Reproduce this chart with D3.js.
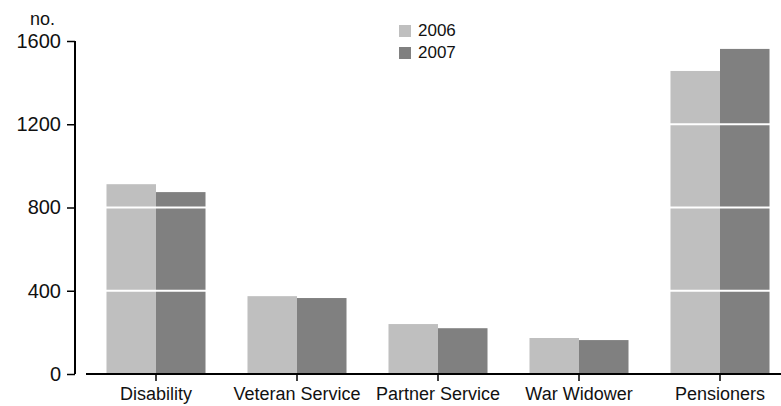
<!DOCTYPE html>
<head>
	<meta charset="utf-8">
	<script src="https://d3js.org/d3.v7.min.js"></script>
	<style>
		body { margin: 0; background: #fff; }
		text { font-family: "Liberation Sans", Arial, sans-serif; fill: #111; }
	</style>
</head>
<body>
<svg width="781" height="406"></svg>
<script>
	var categories = ['Disability', 'Veteran Service', 'Partner Service', 'War Widower', 'Pensioners'];
	var years = ['2006', '2007'];
	var values2006 = [912, 374, 240, 173, 1456];
	var values2007 = [874, 365, 220, 163, 1562];
	var yTicks = [0, 400, 800, 1200, 1600];
	var colors = ['#bfbfbf', '#808080'];

	var svg = d3.select('svg');

	var x = d3.scaleBand().domain(categories).range([85.5, 790.5]).paddingInner(0).paddingOuter(0);
	var xYear = d3.scaleBand().domain(years).range([0, x.bandwidth()]).paddingInner(0).paddingOuter(0.424);
	var y = d3.scaleLinear().domain([0, 1600]).range([374, 41]);

	var rows = categories.map(function (c, i) {
		return {cat: c, vals: [values2006[i], values2007[i]]};
	});

	/* --------- BARS ---------*/

	var groups = svg.append('g').selectAll('g.cat').data(rows).enter()
		.append('g')
		.attr('transform', function (d) { return 'translate(' + x(d.cat) + ',0)'; });

	groups.selectAll('rect').data(function (d) {
		return d.vals.map(function (v, k) { return {year: years[k], v: v, k: k}; });
	}).enter()
		.append('rect')
		.attr('x', function (d) { return xYear(d.year); })
		.attr('width', xYear.bandwidth())
		.attr('y', function (d) { return y(d.v); })
		.attr('height', function (d) { return y(0) - y(d.v); })
		.attr('fill', function (d) { return colors[d.k]; });

	/* --------- WHITE GRID ---------*/

	svg.append('g').selectAll('line').data(yTicks.filter(function (t) { return t > 0; })).enter()
		.append('line')
		.attr('x1', 86).attr('x2', 781)
		.attr('y1', function (d) { return y(d); })
		.attr('y2', function (d) { return y(d); })
		.attr('stroke', '#fff')
		.attr('stroke-width', 2);

	/* --------- Y AXIS ---------*/

	var yAxis = svg.append('g')
		.attr('transform', 'translate(75,0)')
		.call(d3.axisLeft(y).tickValues(yTicks).tickSize(8).tickPadding(6).tickFormat(d3.format('d')));
	yAxis.select('.domain').attr('d', 'M0,' + y(1600) + 'V' + y(0)).attr('stroke', '#000').attr('stroke-width', 2);
	yAxis.selectAll('.tick line').attr('stroke', '#000').attr('stroke-width', 1.5);
	yAxis.selectAll('.tick text').attr('font-size', 20).attr('fill', '#111')
		.attr('font-family', '"Liberation Sans", Arial, sans-serif');

	svg.append('text')
		.attr('x', 30).attr('y', 25)
		.attr('font-size', 18)
		.text('no.');

	/* --------- X AXIS ---------*/

	var xAxis = svg.append('g')
		.attr('transform', 'translate(0,' + y(0) + ')')
		.call(d3.axisBottom(x).tickSize(7).tickPadding(6).tickSizeOuter(0));
	xAxis.select('.domain').attr('d', 'M86,0H781').attr('stroke', '#000').attr('stroke-width', 2);
	xAxis.selectAll('.tick line').attr('stroke', '#000').attr('stroke-width', 1.5);
	xAxis.selectAll('.tick text').attr('font-size', 18).attr('fill', '#111')
		.attr('font-family', '"Liberation Sans", Arial, sans-serif');

	/* --------- LEGEND ---------*/

	var legend = svg.append('g').selectAll('g').data(years).enter()
		.append('g')
		.attr('transform', function (d, i) { return 'translate(399,' + (25 + i * 22) + ')'; });
	legend.append('rect')
		.attr('width', 12).attr('height', 12)
		.attr('fill', function (d, i) { return colors[i]; });
	legend.append('text')
		.attr('x', 19).attr('y', 11)
		.attr('font-size', 17)
		.text(function (d) { return d; });
</script>
</body>
